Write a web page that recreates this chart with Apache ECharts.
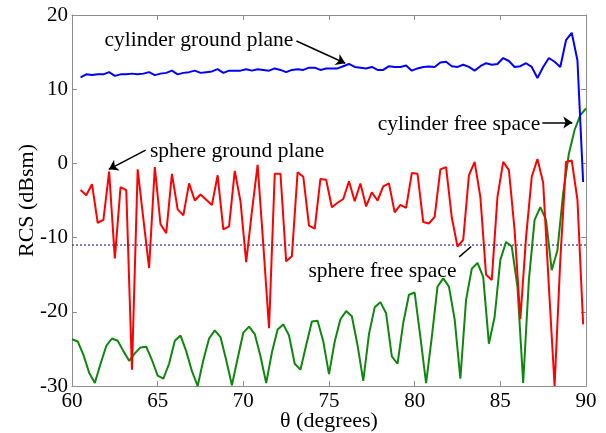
<!DOCTYPE html>
<html><head><meta charset="utf-8">
<script src="https://cdn.jsdelivr.net/npm/echarts@6/dist/echarts.min.js"></script>
<style>html,body{margin:0;padding:0;background:#fff}#c{width:606px;height:433px}</style>
</head><body><div id="c"></div>
<script>
// sampling grid (degrees)
const thetaStep = 1 / 3;
const groundThetaStart = 60.5;
const freeThetaStart = 60;

// cylinder ground plane (blue), from 60.5 deg
const cylinderGround = [11.6, 12.0, 11.9, 12.0, 12.0, 12.3, 11.8, 12.0, 12.0, 12.1,
  12.0, 12.1, 12.3, 11.9, 12.1, 12.2, 12.5, 12.0, 12.2, 12.3,
  12.5, 12.2, 12.3, 12.4, 12.7, 12.2, 12.5, 12.5, 12.5, 12.7,
  12.5, 12.7, 12.6, 12.5, 12.8, 12.6, 12.3, 12.6, 12.7, 12.6,
  12.9, 12.9, 12.6, 12.8, 12.8, 12.8, 13.1, 13.4, 13.0, 12.9,
  12.8, 13.0, 12.6, 12.6, 13.1, 13.0, 13.0, 13.2, 12.5, 12.8,
  13.0, 13.05, 13.0, 13.6, 13.7, 13.1, 13.0, 13.3, 13.0, 12.5,
  13.1, 13.5, 13.3, 13.4, 14.2, 13.8, 13.0, 13.1, 13.5, 13.0,
  11.5, 13.0, 14.2, 13.7, 13.0, 16.6, 17.6, 13.9, -2.5];

// sphere ground plane (red), from 60.5 deg
const sphereGround = [-3.6, -4.3, -2.8, -8.0, -7.6, -1.1, -12.8, -3.2, -3.6, -27.8,
  -0.8, -7.5, -14.1, -0.5, -8.2, -9.4, -1.4, -6.2, -7.0, -2.7,
  -5.0, -4.2, -4.9, -5.6, -1.6, -8.9, -8.5, -1.0, -5.1, -13.3,
  -6.5, -0.2, -11.0, -22.2, -1.4, -1.4, -13.2, -12.5, -1.2, -1.8,
  -8.4, -8.8, -2.1, -2.2, -5.9, -5.3, -4.8, -2.4, -5.1, -2.7,
  -5.8, -3.9, -5.0, -3.1, -2.7, -6.6, -5.6, -6.0, -1.3, -1.4,
  -7.9, -8.1, -7.2, -0.8, -0.5, -7.3, -11.2, -10.3, -1.6, 0.2,
  -4.5, -15.0, -15.7, -4.5, 0.2, -0.9, -9.0, -21.0, -10.0, -1.8,
  0.6, -2.6, -16.6, -30.0, -13.0, 0.2, 0.4, -4.9, -21.7];

// cylinder free space (green), from 60 deg
const cylinderFree = [-23.7, -24.0, -25.8, -28.2, -29.6, -27.0, -24.6, -23.6, -23.9, -25.3,
  -26.6, -25.6, -24.8, -24.7, -26.5, -28.6, -29.0, -27.0, -23.9, -23.2,
  -25.3, -28.0, -30.0, -26.5, -23.6, -22.5, -23.4, -26.5, -29.9, -26.3,
  -22.8, -22.0, -23.0, -26.0, -29.6, -25.5, -22.4, -21.7, -23.2, -27.0,
  -27.8, -24.5, -21.3, -21.2, -24.0, -28.4, -24.0, -21.0, -19.9, -20.6,
  -24.5, -29.3, -23.0, -19.4, -18.7, -20.2, -26.0, -27.0, -21.5, -17.7,
  -17.4, -23.4, -29.6, -23.4, -16.6, -15.5, -16.6, -21.0, -29.0, -18.4,
  -14.2, -13.4, -15.3, -24.3, -20.7, -13.0, -10.6, -11.2, -16.6, -29.6,
  -15.7, -7.6, -5.9, -7.6, -14.4, -11.7, -4.0, 1.3, 4.5, 6.5, 7.4];

// sphere free space (dotted)
const sphereFreeTheta = [60, 90];
const sphereFreeLevel = [-11, -11];

// axes
const xMin = 60, xMax = 90, xStep = 5;
const yMin = -30, yMax = 20, yStep = 10;

// annotations (data coordinates)
const annotationTexts = ['cylinder ground plane', 'cylinder free space', 'sphere ground plane', 'sphere free space'];
const annotationTextAt = [[61.9, 16.6], [77.85, 5.3], [64.55, 1.6], [73.8, -14.6]];
const annotationFrom = [[73.1, 16.5], [87.45, 5.5], [64.3, 1.8], [82.6, -12.6]];
const annotationTo = [[75.95, 13.5], [89.2, 5.5], [62.15, -0.8], [83.3, -11.2]];
const annotationArrow = [true, true, true, false];

function pairs(start, vals) { return vals.map((v, i) => [start + i * thetaStep, v]); }

const FONT = 'Liberation Serif';
const AX = '#8c8c8c';
const chart = echarts.init(document.getElementById('c'), null, {renderer: 'canvas'});

const arrowData = annotationFrom.map((f, i) => [
  {coord: f, symbol: 'none'},
  {coord: annotationTo[i], symbol: annotationArrow[i] ? 'arrow' : 'none'}
]);

function axisCommon(extra) {
  return Object.assign({
    type: 'value',
    nameMoveOverlap: false,
    axisLine: {show: true, onZero: false, lineStyle: {color: AX, width: 1}},
    axisTick: {show: true, inside: true, length: 5, lineStyle: {color: AX}},
    splitLine: {show: false},
    axisLabel: {color: '#000', fontSize: 21, fontFamily: FONT}
  }, extra);
}

chart.setOption({
  animation: false,
  backgroundColor: '#fff',
  grid: {left: 72, right: 20, top: 15, bottom: 47, containLabel: false, outerBoundsMode: 'none'},
  xAxis: [
    axisCommon({min: xMin, max: xMax, interval: xStep, position: 'bottom',
      axisLabel: {color: '#000', fontSize: 21, fontFamily: FONT, margin: 5},
      name: 'θ (degrees)', nameLocation: 'middle', nameGap: 24,
      nameTextStyle: {color: '#000', fontSize: 22, fontFamily: FONT}}),
    axisCommon({min: xMin, max: xMax, interval: xStep, position: 'top', axisLabel: {show: false}})
  ],
  yAxis: [
    axisCommon({min: yMin, max: yMax, interval: yStep, position: 'left',
      axisLabel: {color: '#000', fontSize: 21, fontFamily: FONT, margin: 4},
      name: 'RCS (dBsm)', nameLocation: 'middle', nameGap: 34,
      nameTextStyle: {color: '#000', fontSize: 22, fontFamily: FONT}}),
    axisCommon({min: yMin, max: yMax, interval: yStep, position: 'right', axisLabel: {show: false}})
  ],
  series: [
    {type: 'line', name: 'sphere free space', data: sphereFreeTheta.map((t, i) => [t, sphereFreeLevel[i]]),
      symbol: 'none', lineStyle: {color: '#3b3b96', width: 1.3, type: [2, 2]}, z: 1},
    {type: 'line', name: 'cylinder free space', data: pairs(freeThetaStart, cylinderFree),
      symbol: 'none', lineStyle: {color: '#0f870f', width: 2}, z: 2},
    {type: 'line', name: 'sphere ground plane', data: pairs(groundThetaStart, sphereGround),
      symbol: 'none', lineStyle: {color: '#ff0000', width: 2}, z: 3},
    {type: 'line', name: 'cylinder ground plane', data: pairs(groundThetaStart, cylinderGround),
      symbol: 'none', lineStyle: {color: '#0000ff', width: 2}, z: 4},
    {type: 'line', name: 'annotations', data: [], symbol: 'none', z: 6,
      markLine: {silent: true, animation: false, symbolSize: 9,
        lineStyle: {color: '#000', width: 1.5, type: 'solid'},
        label: {show: false}, emphasis: {disabled: true},
        data: arrowData}}
  ]
});

const texts = annotationTexts.map((t, i) => {
  const p = chart.convertToPixel({gridIndex: 0}, annotationTextAt[i]);
  return {type: 'text', x: p[0], y: p[1], z: 100, silent: true,
    style: {text: t, fill: '#000', fontSize: 21.5, fontFamily: FONT, align: 'left', verticalAlign: 'middle'}};
});
chart.setOption({graphic: texts});
</script>
</body></html>
